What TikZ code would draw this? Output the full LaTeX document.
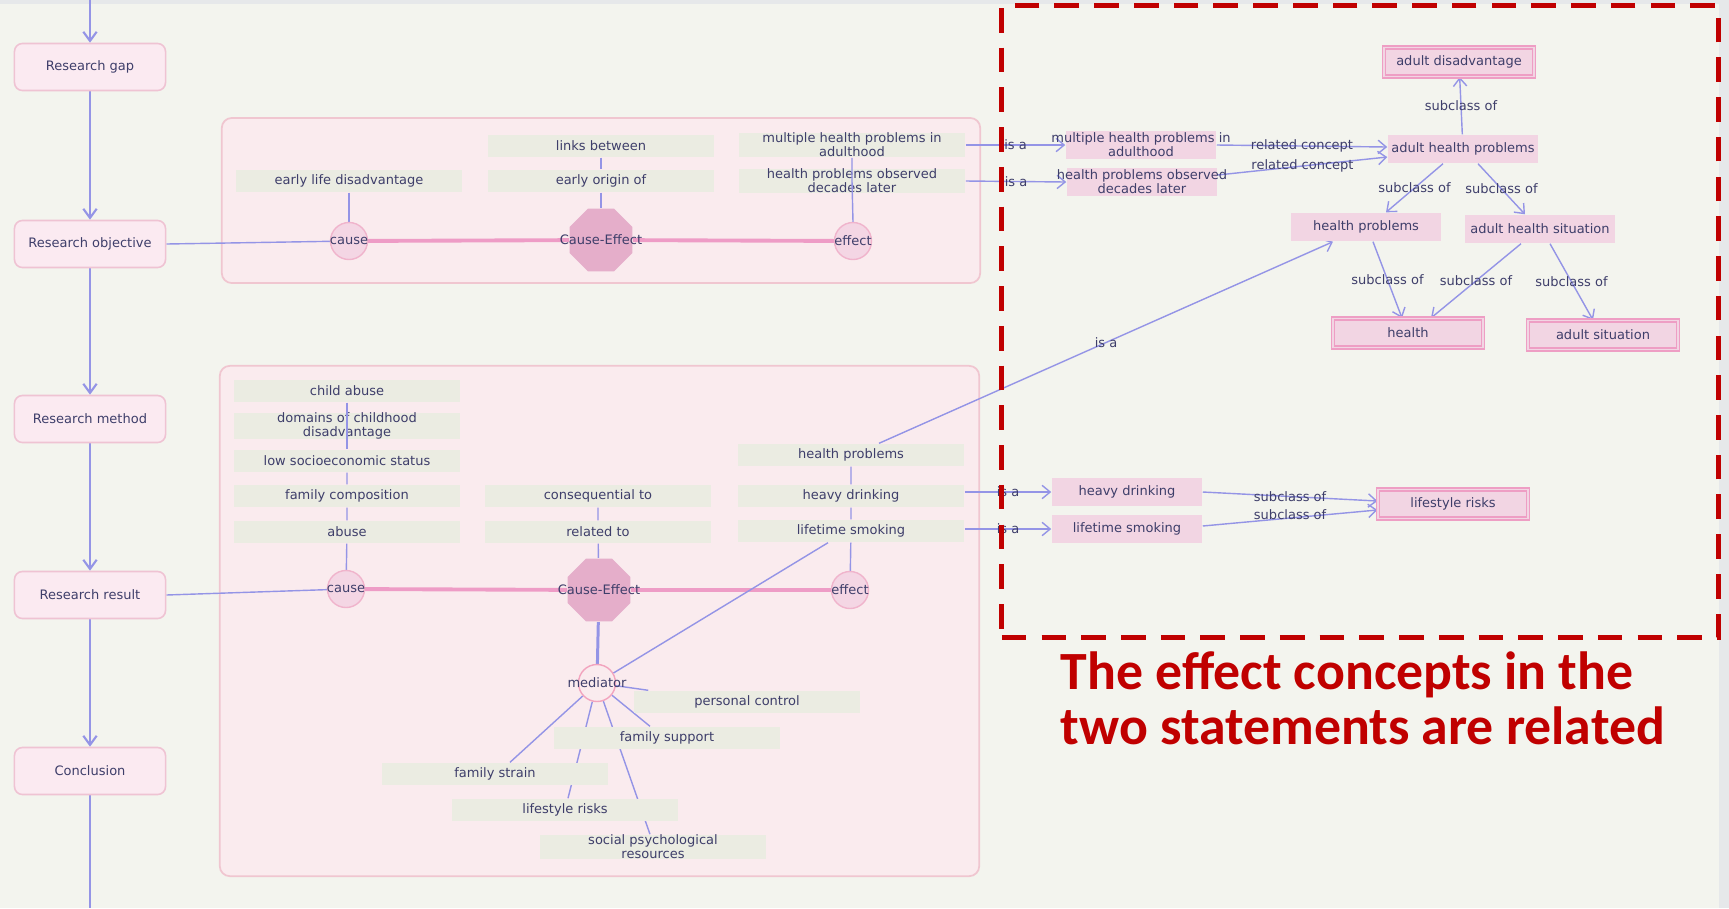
\documentclass[tikz,border=0pt]{standalone}
\usepackage{fontspec}
\setmainfont{DejaVu Sans}
\newfontfamily\calloutfont{Carlito}
\usetikzlibrary{arrows.meta,shapes.geometric}
\pgfdeclarelayer{panels}
\pgfdeclarelayer{edges}
\pgfsetlayers{panels,edges,main}

\definecolor{bgc}{HTML}{F3F4EE}
\definecolor{stripc}{HTML}{E6E8EA}
\definecolor{linkblue}{HTML}{9494E6}
\definecolor{inkc}{HTML}{3E3E6A}
\definecolor{stepfill}{HTML}{FBEAF1}
\definecolor{stepline}{HTML}{EFC3D3}
\definecolor{panelfill}{HTML}{FAEBEE}
\definecolor{panelline}{HTML}{F0C6D0}
\definecolor{termfill}{HTML}{EBECE2}
\definecolor{conceptfill}{HTML}{F2D5E3}
\definecolor{conceptline}{HTML}{EE9EC4}
\definecolor{rolefill}{HTML}{F4D6E4}
\definecolor{roleline}{HTML}{F0B4CC}
\definecolor{medline}{HTML}{F2A4BE}
\definecolor{hubfill}{HTML}{E5AECA}
\definecolor{barpink}{HTML}{EE9CC6}
\definecolor{calloutred}{HTML}{C00000}

\newcommand\diag{\fontsize{3.7pt}{4pt}\selectfont}
\newcommand\wide[1]{\makebox[0pt]{#1}}

\tikzset{
  stepbox/.style={rounded corners=0.08cm, fill=stepfill, draw=stepline, line width=0.45pt,
    minimum width=1.51cm, minimum height=0.47cm, inner sep=0pt, font=\diag, text=inkc},
  term/.style={fill=termfill, minimum width=2.26cm, minimum height=0.22cm, inner sep=0pt,
    font=\diag, text=inkc, align=center},
  concept/.style={fill=conceptfill, minimum width=1.5cm, minimum height=0.28cm, inner sep=0pt,
    font=\diag, text=inkc, align=center},
  rootconcept/.style={concept, minimum width=1.5cm, minimum height=0.29cm, draw=conceptline,
    line width=0.3pt, double=conceptfill, double distance=0.55pt},
  role/.style={circle, fill=rolefill, draw=roleline, line width=0.4pt, minimum size=0.37cm, inner sep=0pt},
  medc/.style={role, fill=panelfill, draw=medline},
  hub/.style={regular polygon, regular polygon sides=8, fill=hubfill, minimum size=0.68cm, inner sep=0pt},
  intext/.style={font=\diag, text=inkc, inner sep=0pt},
  panel/.style={rounded corners=0.1cm, fill=panelfill, draw=panelline, line width=0.5pt},
  link/.style={draw=linkblue, line width=0.4pt},
  arrowlink/.style={link, -{Straight Barb[length=2.3pt,width=3.8pt]}},
  flow/.style={draw=linkblue, line width=0.6pt},
  flowarrow/.style={flow, -{Straight Barb[length=2.6pt,width=3.8pt]}},
  cebar/.style={draw=barpink, line width=1.1pt},
  elabel/.style={font=\diag, text=inkc, inner sep=0pt},
  focusbox/.style={draw=calloutred, line width=1.42pt, dash pattern=on 7pt off 4.3pt, inner sep=0pt},
  callout/.style={font=\calloutfont\bfseries\fontsize{15.3pt}{15.6pt}\selectfont, text=calloutred,
    align=left, inner sep=0pt},
}

\begin{document}
\begin{tikzpicture}[x=0.01cm,y=-0.01cm]
\useasboundingbox (0,0) rectangle (1729,908);

% page background and the two panels
\begin{pgfonlayer}{panels}
  \fill[bgc] (0,0) rectangle (1729,908);
  \fill[stripc] (0,0) rectangle (1729,4);
  \fill[stripc] (1719,0) rectangle (1729,908);
  \node[panel, minimum width=7.58cm, minimum height=1.65cm] (objpanel) at (601,200.5) {};
  \node[panel, minimum width=7.59cm, minimum height=5.10cm] (respanel) at (599.5,621) {};
\end{pgfonlayer}

% research flow
\node[stepbox] (gap)  at (90,67)  {Research gap};
\node[stepbox] (obj)  at (90,244) {Research objective};
\node[stepbox] (meth) at (90,419) {Research method};
\node[stepbox] (res)  at (90,595) {Research result};
\node[stepbox] (conc) at (90,771) {Conclusion};
\coordinate (flowin)  at (90,0);
\coordinate (flowout) at (90,908);

% objective statement
\node[term] (eld)     at (349,181) {early life disadvantage};
\node[term] (links)   at (601,146) {links between};
\node[term] (origin)  at (601,181) {early origin of};
\node[term] (multi)   at (852,145) {multiple health problems in\\adulthood};
\node[term] (decades) at (852,181) {health problems observed\\decades later};
\node[role] (causeA)  at (349,241) {};
\node[intext] at (causeA) {cause};
\node[hub] (ceA) at (601,240) {};
\node[intext] at (ceA) {Cause-Effect};
\node[role] (effectA) at (853,241) {};
\node[intext] at (effectA) {effect};

% result statement
\node[term] (child)   at (347,391) {child abuse};
\node[term] (domains) at (347,426) {domains of childhood\\disadvantage};
\node[term] (ses)     at (347,461) {low socioeconomic status};
\node[term] (famcomp) at (347,496) {family composition};
\node[term] (abuse)   at (347,532) {abuse};
\node[term] (conseq)  at (598,496) {consequential to};
\node[term] (relto)   at (598,532) {related to};
\node[term] (hprob)   at (851,455) {health problems};
\node[term] (drink)   at (851,496) {heavy drinking};
\node[term] (smoke)   at (851,531) {lifetime smoking};
\node[role] (causeB)  at (346,589) {};
\node[intext] at (causeB) {cause};
\node[hub] (ceB) at (599,590) {};
\node[intext] at (ceB) {Cause-Effect};
\node[role] (effectB) at (850,590) {};
\node[intext] at (effectB) {effect};
\node[medc] (med) at (597,683) {};
\node[intext] at (med) {mediator};
\node[term] (pctrl)   at (747,702) {personal control};
\node[term] (fsup)    at (667,738) {family support};
\node[term] (fstrain) at (495,774) {family strain};
\node[term] (lrisk)   at (565,810) {lifestyle risks};
\node[term] (spr)     at (653,847) {social psychological\\resources};

% concept hierarchy
\node[concept] (multiC)   at (1141,145) {\wide{multiple health problems in}\\\wide{adulthood}};
\node[concept] (decadesC) at (1142,182) {\wide{health problems observed}\\\wide{decades later}};
\node[concept] (ahp)  at (1463,149) {adult health problems};
\node[rootconcept] (adis) at (1459,62) {adult disadvantage};
\node[concept] (hpC)  at (1366,227) {health problems};
\node[concept] (ahs)  at (1540,229) {adult health situation};
\node[rootconcept] (health) at (1408,333) {health};
\node[rootconcept] (asit)   at (1603,335) {adult situation};
\node[concept] (drinkC) at (1127,492) {heavy drinking};
\node[concept] (smokeC) at (1127,529) {lifetime smoking};
\node[rootconcept] (lrC) at (1453,504) {lifestyle risks};

% connectors
\begin{pgfonlayer}{edges}
  \draw[flowarrow] (flowin) -- (gap);
  \draw[flowarrow] (gap) -- (obj);
  \draw[flowarrow] (obj) -- (meth);
  \draw[flowarrow] (meth) -- (res);
  \draw[flowarrow] (res) -- (conc);
  \draw[flow] (conc) -- (flowout);

  \draw[cebar] (causeA) -- (ceA) -- (effectA);
  \draw[cebar] (causeB) -- (ceB) -- (effectB);
  \draw[link] (obj.east) -- (causeA);
  \draw[link] (res.east) -- (causeB);

  \draw[link] (eld) -- (causeA);
  \draw[link] (links) -- (origin) -- (ceA);

  \draw[link] (ses) -- (famcomp) -- (abuse) -- (causeB);
  \draw[link] (conseq) -- (relto) -- (ceB);
  \draw[link] (hprob) -- (drink) -- (smoke) -- (effectB);
  \draw[link, line width=0.85pt] (ceB) -- (med);
  \draw[link] ([xshift=-0.23cm]smoke.south) -- (med);
  \draw[link] (med) -- ([xshift=0.15cm]pctrl.north west);
  \draw[link] (med) -- ([xshift=-0.17cm]fsup.north);
  \draw[link] (med) -- ([xshift=0.15cm]fstrain.north);
  \draw[link] (med) -- ([xshift=0.03cm]lrisk.north);
  \draw[link] (med) -- ([xshift=-0.03cm]spr.north);

  \draw[arrowlink] (multi.east) -- node[elabel]{is a} (multiC.west);
  \draw[arrowlink] (decades.east) -- node[elabel]{is a} (decadesC.west);
  \draw[arrowlink] (drinkC.west -| drink.east) -- node[elabel]{is a} (drinkC.west);
  \draw[arrowlink] (smokeC.west -| smoke.east) -- node[elabel]{is a} (smokeC.west);
  \draw[arrowlink] ([xshift=0.28cm]hprob.north) -- node[elabel]{is a} ([xshift=-0.33cm]hpC.south);

  \draw[arrowlink] (multiC.east) -- node[elabel]{related concept} ([yshift=0.02cm]ahp.west);
  \draw[arrowlink] ([yshift=0.07cm]decadesC.east) -- node[elabel]{related concept} ([yshift=-0.08cm]ahp.west);
  \draw[arrowlink] (ahp) -- node[elabel]{subclass of} (adis);
  \draw[arrowlink] ([xshift=-0.2cm]ahp.south) -- node[elabel]{subclass of} ([xshift=0.2cm]hpC.north);
  \draw[arrowlink] ([xshift=0.15cm]ahp.south) -- node[elabel]{subclass of} ([xshift=-0.15cm]ahs.north);
  \draw[arrowlink] ([xshift=0.07cm]hpC.south) -- node[elabel]{subclass of} ([xshift=-0.06cm]health.north);
  \draw[arrowlink] ([xshift=-0.19cm]ahs.south) -- node[elabel]{subclass of} ([xshift=0.23cm]health.north);
  \draw[arrowlink] ([xshift=0.1cm]ahs.south) -- node[elabel]{subclass of} ([xshift=-0.1cm]asit.north);
  \draw[arrowlink] (drinkC.east) -- node[elabel]{subclass of} ([yshift=0.03cm]lrC.west);
  \draw[arrowlink] ([yshift=0.03cm]smokeC.east) -- node[elabel, yshift=0.03cm]{subclass of} ([yshift=-0.06cm]lrC.west);
\end{pgfonlayer}

% chains that run across the stacked terms
\draw[link] (child.south) -- (domains.center) -- (ses.north);
\draw[link] (multi.south) -- (decades.center) -- (effectA.north);

% highlighted region and its note
\node[focusbox, minimum width=7.16cm, minimum height=6.31cm] (focus) at (1360,321.5) {};
\node[callout, anchor=north west] (note) at (1060,651)
  {The effect concepts in the\\two statements are related};
\end{tikzpicture}
\end{document}
